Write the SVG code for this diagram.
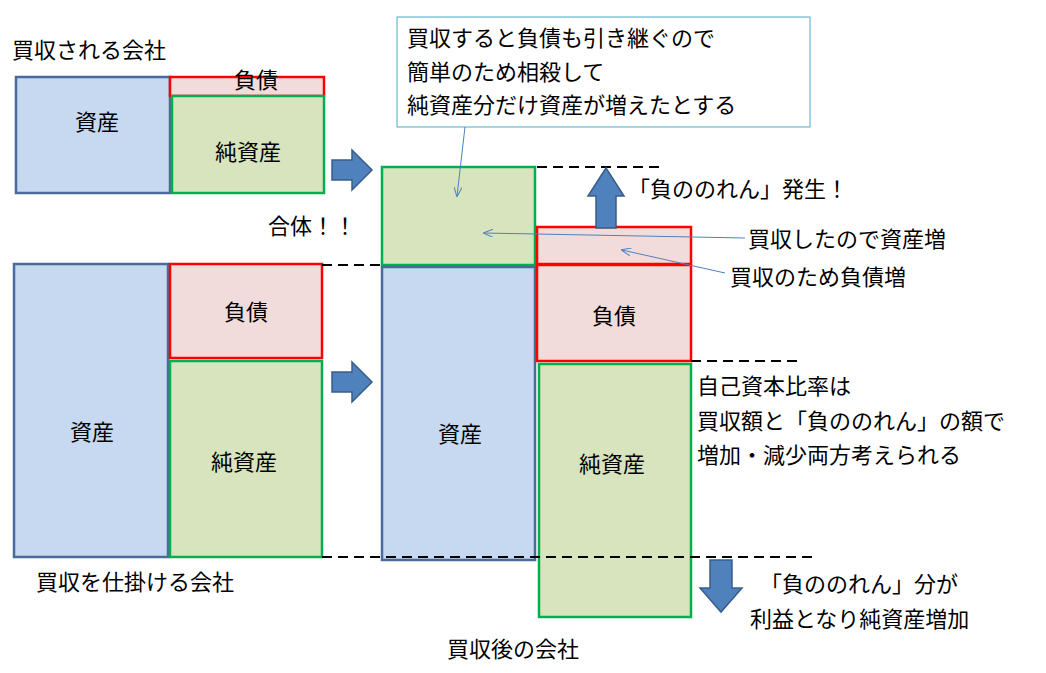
<svg xmlns="http://www.w3.org/2000/svg" width="1046" height="673" viewBox="0 0 1046 673">
<defs>
<style>
text{font-family:"Noto Sans CJK JP","Liberation Sans",sans-serif;font-size:22px;fill:#000}
.c{text-anchor:middle}
.a{fill:#c6d9f1;stroke:#4a6a9a;stroke-width:2.5}
.l{fill:#f2dcdb;stroke:#ff0000;stroke-width:2.5}
.e{fill:#d7e4bd;stroke:#00b050;stroke-width:2.5}
.d{stroke:#000;stroke-width:2;stroke-dasharray:10,6;fill:none}
.ba{fill:#4f81bd;stroke:#385d8a;stroke-width:1.5}
.t{stroke:#4f81bd;stroke-width:1;fill:none;marker-end:url(#m)}
</style>
<marker id="m" markerWidth="10" markerHeight="8" refX="9" refY="4" orient="auto" markerUnits="userSpaceOnUse"><path d="M0,0 L10,4 L0,8" fill="none" stroke="#4f81bd"/></marker>
</defs>
<g id="target">
<text x="12" y="58">買収される会社</text>
<rect class="a" x="16" y="77" width="154" height="116"/>
<text class="c" x="97" y="130">資産</text>
<rect class="l" x="170" y="77" width="154" height="19"/>
<text class="c" x="256" y="88">負債</text>
<rect class="e" x="172" y="96" width="152" height="97"/>
<text class="c" x="248" y="160">純資産</text>
</g>
<g id="acquirer">
<rect class="a" x="14" y="264" width="154" height="293"/>
<text class="c" x="92" y="440">資産</text>
<rect class="l" x="170" y="264" width="152" height="94"/>
<text class="c" x="246" y="320">負債</text>
<rect class="e" x="170" y="361" width="152" height="196"/>
<text class="c" x="244" y="470">純資産</text>
<text x="36" y="590">買収を仕掛ける会社</text>
</g>
<g id="after">
<rect class="e" x="382" y="167" width="153" height="98"/>
<rect class="a" x="382" y="267" width="153" height="293"/>
<text class="c" x="460" y="442">資産</text>
<rect class="l" x="537" y="227" width="154" height="37"/>
<rect class="l" x="537" y="265" width="154" height="96"/>
<text class="c" x="614" y="324">負債</text>
<rect class="e" x="539" y="364" width="152" height="253"/>
<text class="c" x="612" y="472">純資産</text>
<text x="447" y="657">買収後の会社</text>
</g>
<g id="callout">
<rect x="397" y="17" width="413" height="110" fill="#fff" stroke="#4bacc6" stroke-width="1"/>
<text x="407" y="46">買収すると負債も引き継ぐので</text>
<text x="407" y="80">簡単のため相殺して</text>
<text x="407" y="113">純資産分だけ資産が増えたとする</text>
</g>
<g id="labels">
<text x="268" y="234">合体！！</text>
<text x="628" y="197">「負ののれん」発生！</text>
<text x="748" y="247">買収したので資産増</text>
<text x="730" y="285">買収のため負債増</text>
<text x="697" y="394">自己資本比率は</text>
<text x="697" y="429">買収額と「負ののれん」の額で</text>
<text x="697" y="463">増加・減少両方考えられる</text>
<text x="760" y="592">「負ののれん」分が</text>
<text x="750" y="627">利益となり純資産増加</text>
</g>
<g id="connectors">
<path class="d" d="M537 167H665 M322 265H382 M691 361H800 M322 557H815"/>
<path class="ba" d="M332 160H352V150L372 170L352 190V180H332Z"/>
<path class="ba" d="M332 372H352V362L372 382L352 402V392H332Z"/>
<path class="ba" d="M596 228V196H588L606 168L624 196H616V228Z"/>
<path class="ba" d="M710 560V588H700L721 612L742 588H732V560Z"/>
<path class="t" d="M465 127L457 196"/>
<path class="t" d="M745 238L484 233"/>
<path class="t" d="M725 273L622 250"/>
</g>
</svg>
